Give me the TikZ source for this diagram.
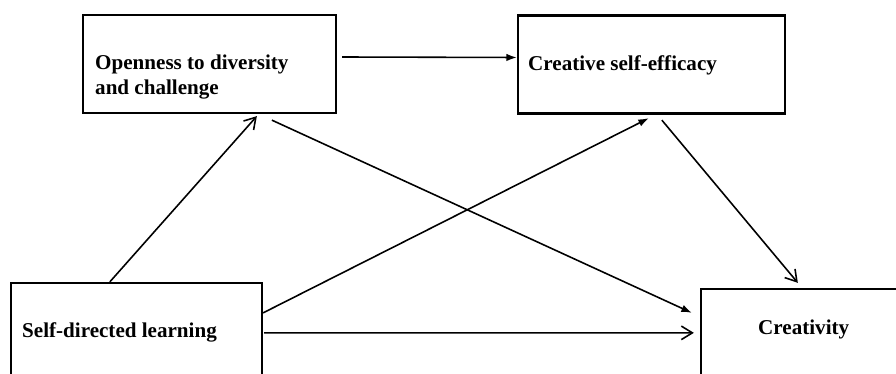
\documentclass[tikz,border=0pt]{standalone}
\usepackage{fontspec}
\setmainfont{Liberation Serif}
\usetikzlibrary{arrows.meta,calc,positioning}

\begin{document}
\begin{tikzpicture}[x=1cm,y=1cm,
  box/.style={draw,line width=1.3pt,minimum height=1.96cm,inner sep=0pt},
  lbl/.style={align=left,inner sep=0pt,font=\fontsize{12}{13.8}\selectfont\bfseries},
  solid tip/.style={-{Latex[length=.21cm,width=.15cm]},line width=.9pt},
  open tip/.style={-{Straight Barb[length=.22cm,width=.27cm]},line width=.9pt}]
\path[use as bounding box,clip] (0,0) rectangle (17.92,7.48);
\node[box,minimum width=5.06cm] (openness) at (4.19,6.20) {};
\node[box,minimum width=5.34cm] (efficacy) at (13.03,6.19) {};
\node[box,minimum width=5.02cm] (selfdir) at (2.73,.84) {};
\node[box,minimum width=5.34cm] (creativity) at (16.69,.72) {};
\node[lbl,anchor=west] (openness-l) at ($(openness.west)+(.26,-.26)$)
  {Openness to diversity\\and challenge};
\node[lbl,anchor=west] (efficacy-l) at ($(efficacy.west)+(.22,-.02)$)
  {Creative self-efficacy};
\node[lbl,anchor=west] (selfdir-l) at ($(selfdir.west)+(.24,.0)$)
  {Self-directed learning};
\node[lbl,anchor=west] (creativity-l) at ($(creativity.west)+(1.16,.18)$)
  {Creativity};
\draw[solid tip] ([shift={(.1,.14)}]openness.east)--([yshift=.14cm]efficacy.west);
\draw[open tip] ([xshift=2cm]selfdir.north west)--([shift={(3.5,-.04)}]openness.south west);
\draw[solid tip] ([shift={(3.8,-.12)}]openness.south west)--([shift={(-.16,-.5)}]creativity.north west);
\draw[solid tip] ([yshift=-.62cm]selfdir.north east)--([shift={(2.64,-.07)}]efficacy.south west);
\draw[open tip] ([shift={(.02,-1.02)}]selfdir.north east)--([shift={(-.12,-.9)}]creativity.north west);
\draw[open tip] ([shift={(2.9,-.11)}]efficacy.south west)--([shift={(1.96,.1)}]creativity.north west);
\end{tikzpicture}
\end{document}
